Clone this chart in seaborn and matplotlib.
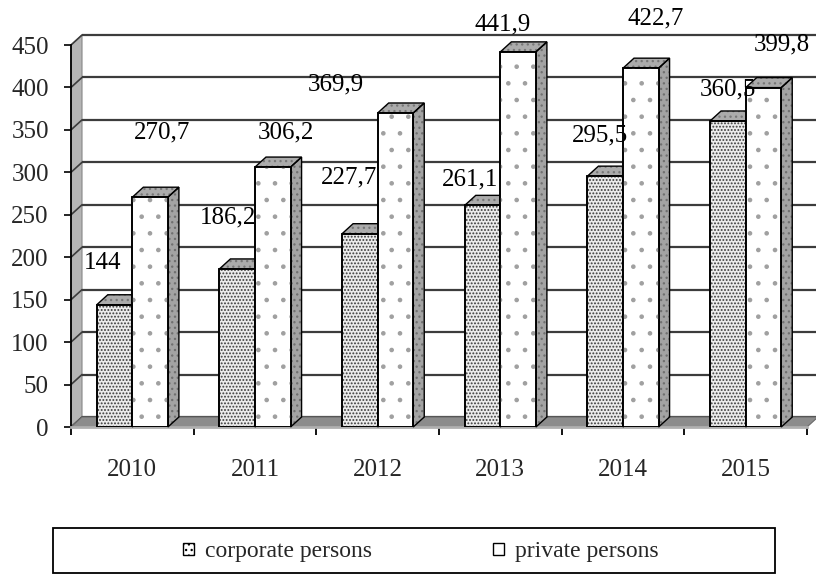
import matplotlib
matplotlib.use("Agg")
import matplotlib.pyplot as plt
import seaborn as sns
import pandas as pd
from matplotlib.patches import Polygon, Rectangle, Patch

# ---------------- data ----------------
years = ["2010", "2011", "2012", "2013", "2014", "2015"]
corporate = [144, 186.2, 227.7, 261.1, 295.5, 360.5]
private = [270.7, 306.2, 369.9, 441.9, 422.7, 399.8]
series_names = ["corporate persons", "private persons"]
y_ticks = [0, 50, 100, 150, 200, 250, 300, 350, 400, 450]

# label offsets in pixels (right, up) from the front-top centre of each bar
corp_label_off = [(-11.5, 41.7), (-8.7, 51.9), (-10.9, 56.7), (-12.5, 26.3), (-5.2, 41.1), (0, 31.9)]
priv_label_off = [(12.4, 65.2), (13.2, 35), (-59.5, 28.9), (-15.1, 27.8), (15.2, 50.1), (18.5, 43.6)]

sns.set_style("white")
plt.rcParams["font.family"] = ["Liberation Serif", "DejaVu Serif"]
plt.rcParams["hatch.linewidth"] = 0.9

W, H = 816, 575
fig = plt.figure(figsize=(W / 100, H / 100), dpi=100)
ax_l, ax_r, ax_b, ax_t = 71, 807, 427, 45
ax = fig.add_axes([ax_l / W, (H - ax_b) / H, (ax_r - ax_l) / W, (ax_b - ax_t) / H])

df = pd.DataFrame({
    "year": years * 2,
    "value": corporate + private,
    "type": [series_names[0]] * len(years) + [series_names[1]] * len(years),
})

sns.barplot(data=df, x="year", y="value", hue="type", width=0.58, ax=ax,
            palette=["white", "white"], saturation=1, edgecolor="black",
            linewidth=1.2, legend=False, errorbar=None)

ax.set_xlim(-0.5, 5.5)
ax.set_ylim(0, 450)

# 3D depth in data units
dxd = 11 / ((ax_r - ax_l) / 6)
dyd = 10 / ((ax_b - ax_t) / 450)

# back wall, left wall, floor, grid
ax.add_patch(Rectangle((-0.5 + dxd, dyd), 6, 450, fc="white", ec="none", zorder=0.5, clip_on=False))
ax.add_patch(Polygon([(-0.5, 0), (-0.5 + dxd, dyd), (-0.5 + dxd, 450 + dyd), (-0.5, 450)],
                     closed=True, fc="#b5b5b5", ec="#888888", lw=0.8, zorder=0.6, clip_on=False))
for v in y_ticks:
    ax.plot([-0.5 + dxd, 5.5 + dxd], [v + dyd, v + dyd], color="#3c3c3c", lw=1.6, zorder=0.8,
            clip_on=False, solid_capstyle="butt")
    ax.plot([-0.5, -0.5 + dxd], [v, v + dyd], color="#3c3c3c", lw=1.2, zorder=0.8, clip_on=False)
ax.add_patch(Polygon([(-0.5, 0), (5.5, 0), (5.5 + dxd, dyd), (-0.5 + dxd, dyd)],
                     closed=True, fc="#8c8c8c", ec="#6a6a6a", lw=0.8, zorder=1, clip_on=False))

front_hatch = [".....", "."]
front_hcol = ["#3a3a3a", "#a0a0a0"]
front_face = ["#ececec", "white"]
label_offs = [corp_label_off, priv_label_off]
for k, cont in enumerate(ax.containers):
    vals = corporate if k == 0 else private
    z = 3 + k
    for i, bar in enumerate(cont.patches):
        x0 = bar.get_x()
        w = bar.get_width()
        h = bar.get_height()
        x1 = x0 + w
        bar.set_zorder(z)
        bar.set_facecolor(front_face[k])
        # hatch overlay on the front face
        ax.add_patch(Rectangle((x0, 0), w, h, fc="none", ec=front_hcol[k], lw=0,
                               hatch=front_hatch[k], zorder=z + 0.01))
        ax.add_patch(Rectangle((x0, 0), w, h, fc="none", ec="black", lw=1.2, zorder=z + 0.02))
        # side face
        side = [(x1, 0), (x1 + dxd, dyd), (x1 + dxd, h + dyd), (x1, h)]
        ax.add_patch(Polygon(side, closed=True, fc="#a3a3a3", ec="#707070", lw=0,
                             hatch="...", zorder=z - 0.01, clip_on=False))
        ax.add_patch(Polygon(side, closed=True, fc="none", ec="black", lw=1.0,
                             zorder=z - 0.005, clip_on=False))
        # top face
        top = [(x0, h), (x1, h), (x1 + dxd, h + dyd), (x0 + dxd, h + dyd)]
        ax.add_patch(Polygon(top, closed=True, fc="#ababab", ec="#777777", lw=0,
                             hatch="...", zorder=z - 0.01, clip_on=False))
        ax.add_patch(Polygon(top, closed=True, fc="none", ec="black", lw=1.0,
                             zorder=z - 0.005, clip_on=False))
        # value label
        txt = f"{vals[i]:g}".replace(".", ",")
        ox, oy = label_offs[k][i]
        ax.annotate(txt, xy=(x0 + w / 2, h), xytext=(ox * 0.72, oy * 0.72),
                    textcoords="offset points", ha="center", va="center",
                    fontsize=18, color="black", zorder=10, annotation_clip=False)

# axes styling
for s in ["top", "right"]:
    ax.spines[s].set_visible(False)
ax.spines["left"].set_color("black")
ax.spines["left"].set_linewidth(1.3)
ax.spines["left"].set_zorder(2)
ax.spines["bottom"].set_color("#b0b0b0")
ax.spines["bottom"].set_linewidth(2)
ax.spines["bottom"].set_zorder(2)

ax.set_yticks(y_ticks)
ax.set_yticklabels([str(v) for v in y_ticks])
ax.tick_params(axis="y", direction="out", length=5, width=1.2, color="black",
               labelsize=18, pad=11, left=True)
ax.set_xticks(range(len(years)))
ax.set_xticklabels(years)
ax.set_xticks([i - 0.5 for i in range(len(years) + 1)], minor=True)
ax.tick_params(axis="x", which="major", length=0, labelsize=18, pad=23)
ax.tick_params(axis="x", which="minor", direction="out", length=6, width=1.3, color="black", bottom=True)
ax.set_xlabel("")
ax.set_ylabel("")
ax.grid(False)

# legend
handles = [Patch(facecolor="white", edgecolor="black", hatch="...", lw=1.0),
           Patch(facecolor="white", edgecolor="black", lw=1.0)]
fig.legend(handles, series_names, loc="center", bbox_to_anchor=(421 / W, (H - 552) / H),
           ncol=2, frameon=False, fontsize=17, handlelength=0.45, handleheight=0.45,
           handletextpad=0.5, columnspacing=5.1)
fig.add_artist(Rectangle((53 / W, 2 / H), (775 - 53) / W, (573 - 528) / H,
                         transform=fig.transFigure, fill=False, ec="black", lw=1.3))

fig.savefig("out.png", dpi=100)
